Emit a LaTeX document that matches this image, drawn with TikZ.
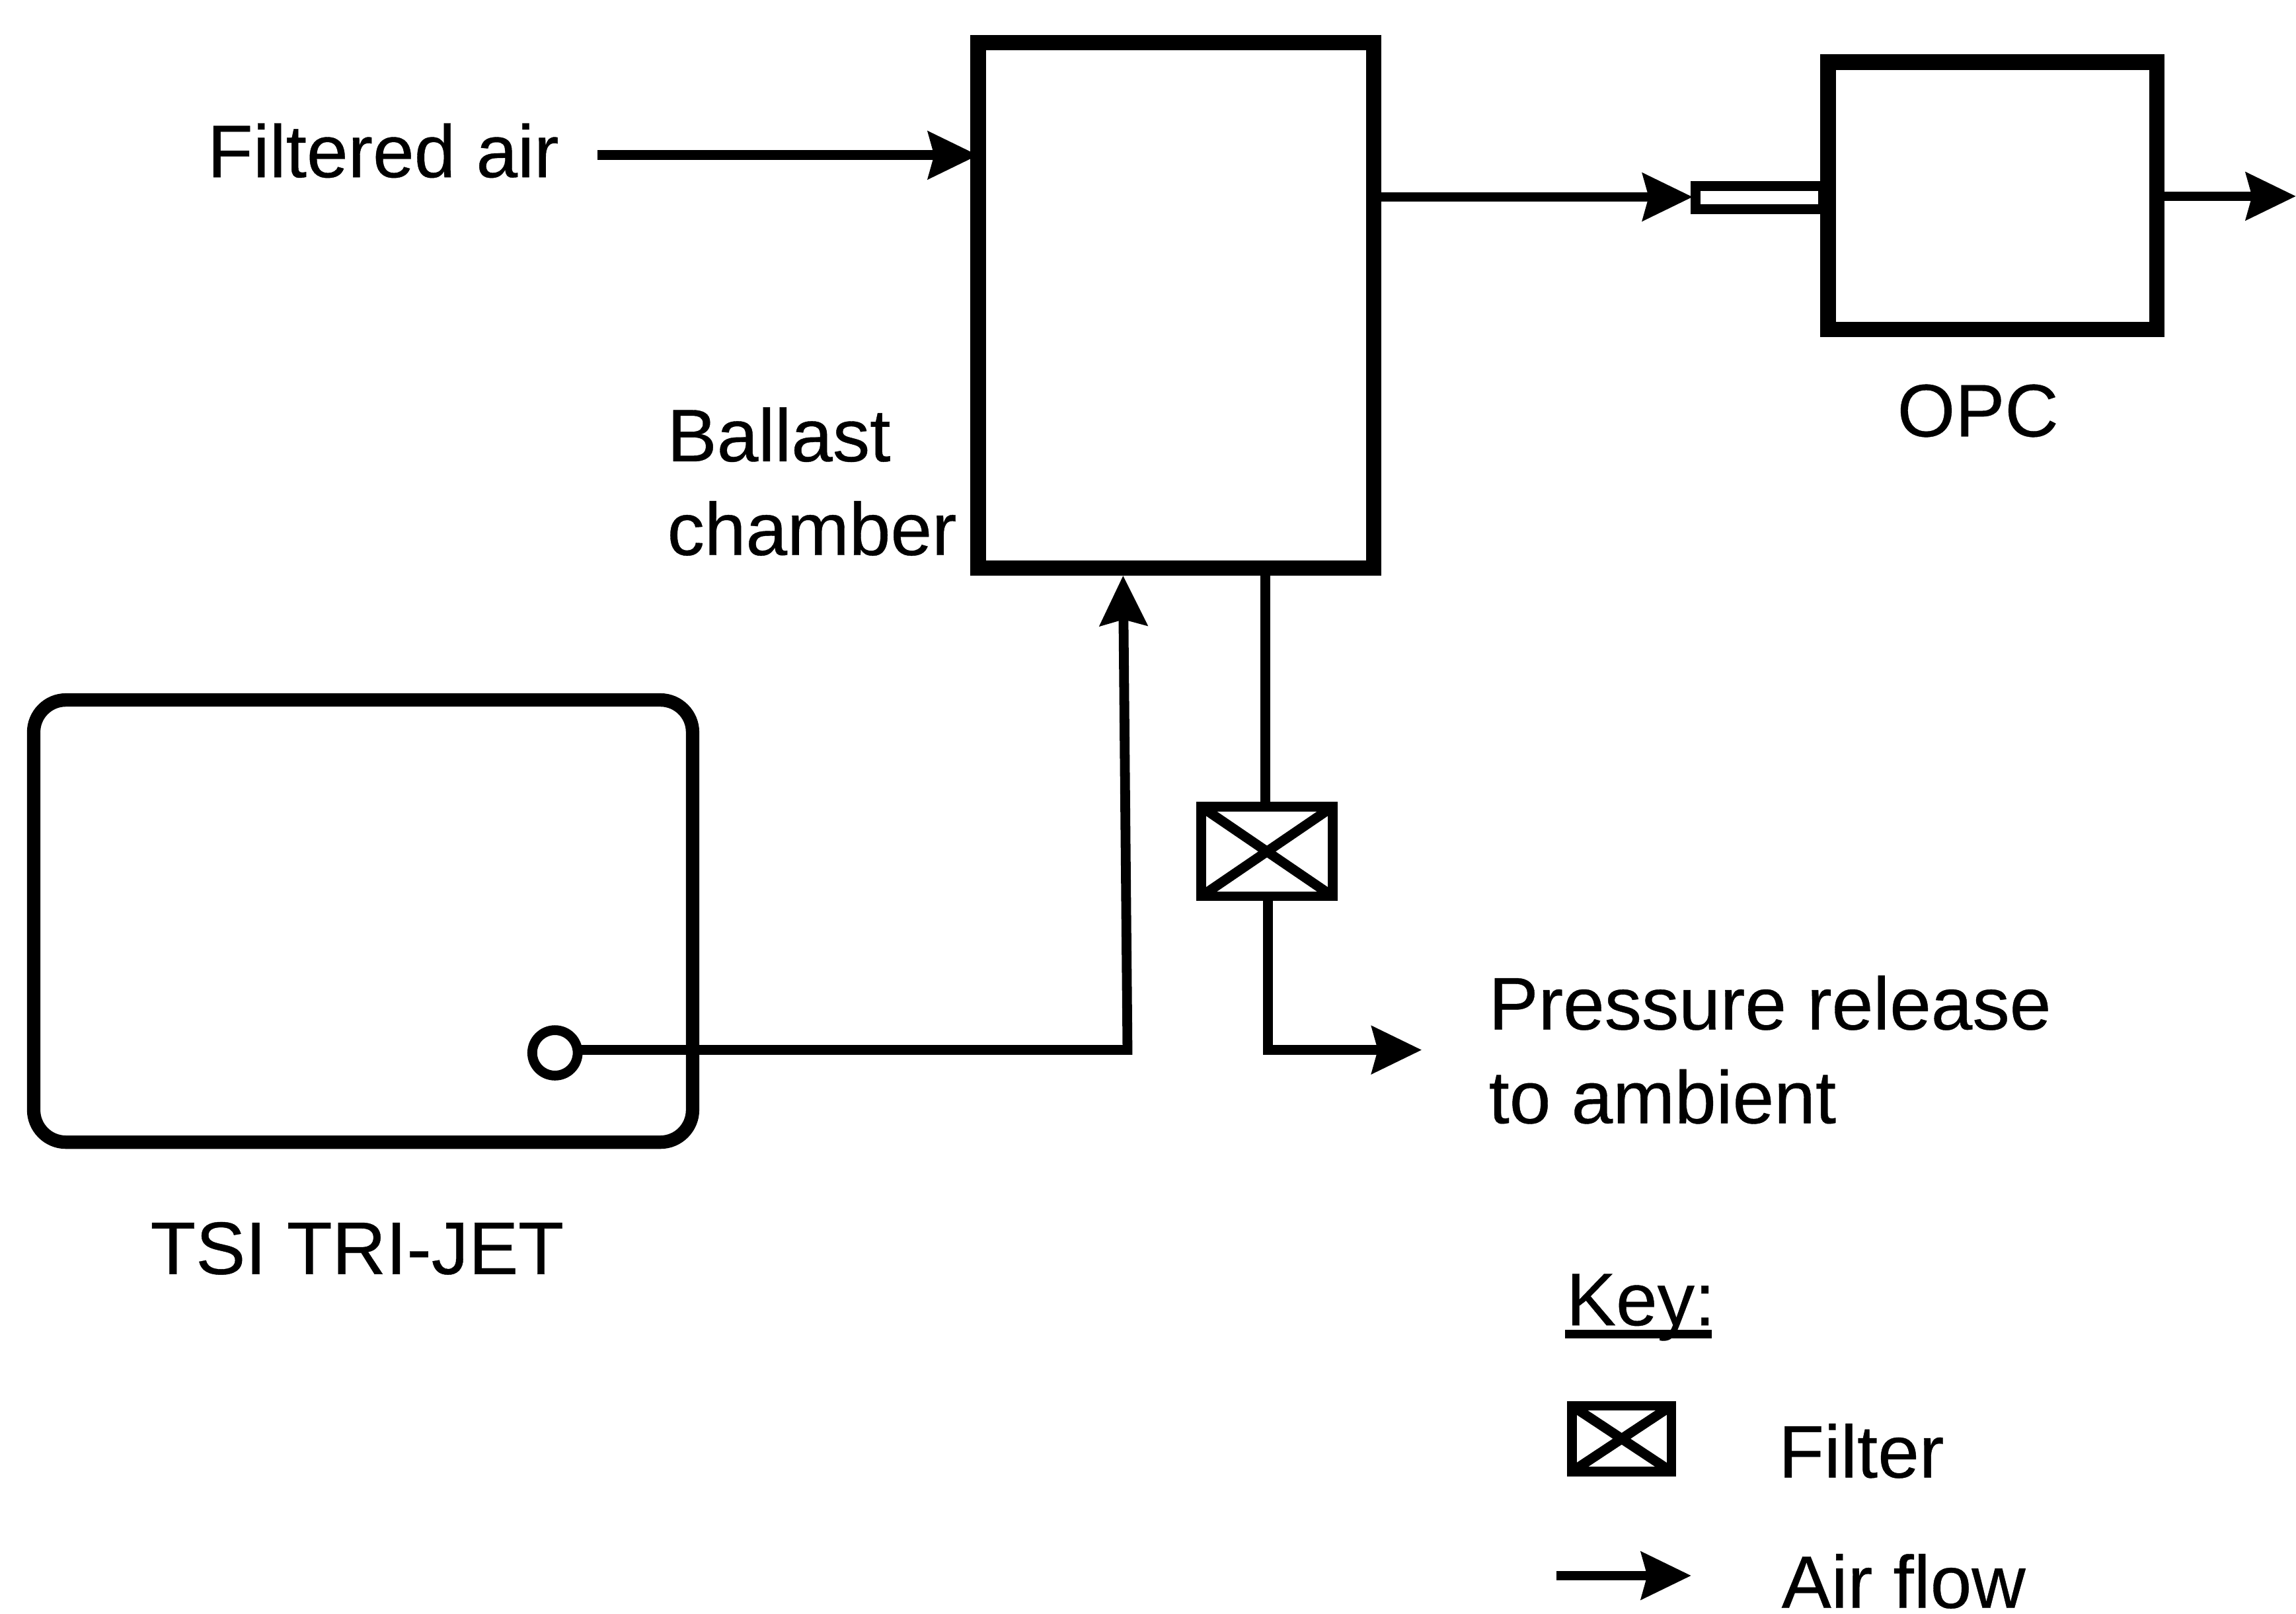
\documentclass[tikz,border=0pt]{standalone}
\usepackage{fontspec}
\setmainfont[FakeBold=0.35]{Liberation Sans}
\usetikzlibrary{arrows.meta}
\tikzset{
  x=0.01cm,y=-0.01cm,
  box/.style={draw,line width=3pt,line join=miter},
  flow/.style={line width=1.9pt,line join=miter,-{Stealth[length=0.34cm,width=0.32cm,inset=0.04cm]}},
  pipe/.style={line width=1.9pt},
  lab/.style={font=\fontsize{14.45}{18.2}\selectfont,inner sep=0pt,anchor=base west,align=left},
  filt/.style={draw,line width=1.9pt,line join=miter}
}
\begin{document}
\begin{tikzpicture}
\useasboundingbox (0,0) rectangle (1568,1102);
\coordinate (bTL) at (668,29); \coordinate (bBR) at (938,388);
\draw[box] (bTL) rectangle (bBR);
\coordinate (oTL) at (1248.5,42.5); \coordinate (oBR) at (1473,225);
\draw[box] (oTL) rectangle (oBR);
\draw[box,line width=2.6pt,rounded corners=0.22cm] (23,478) rectangle (473,780);
\coordinate (fa) at (408,106); \coordinate (faE) at (668,106);
\draw[flow] (fa) -- (faE);
\coordinate (bo) at (941,134.5); \coordinate (tipL) at (1156,134.5);
\draw[flow] (bo) -- (tipL);
\draw[filt] (1158,127) rectangle (1245,143);
\coordinate (oo) at (1478,134); \coordinate (oe) at (1568,134);
\draw[flow] (oo) -- (oe);
\draw[line width=1.9pt] (379,719) circle (0.155cm);
\coordinate (c) at (395,717); \coordinate (cc) at (770,717); \coordinate (cu) at (767,393);
\draw[flow] (c) -- (cc) -- (cu);
\coordinate (v0) at (864,393); \coordinate (v1) at (864,551);
\draw[pipe] (v0) -- (v1);
\draw[filt] (820.5,551) rectangle (910,612);
\draw[filt] (820.5,551) -- (910,612) (820.5,612) -- (910,551);
\coordinate (v2) at (866,612); \coordinate (v3) at (866,717); \coordinate (v4) at (971,717);
\draw[flow] (v2) -- (v3) -- (v4);
\node[lab] (n1) at (141,121) {Filtered air};
\node[lab] (n2) at (455,315) {Ballast};
\node[lab] (n3) at (455,379) {chamber};
\node[lab] (n4) at (1295,298) {OPC};
\node[lab] (n5) at (1016,703) {Pressure release};
\node[lab] (n6) at (1016,767) {to ambient};
\node[lab] (n7) at (102,870) {TSI TRI-JET};
\node[lab] (n8) at (1069,905) {Key:};
\node[lab] (n9) at (1214,1009) {Filter};
\node[lab] (n10) at (1216,1098) {Air flow};
\coordinate (u0) at (1069,911); \coordinate (u1) at (1169,911);
\draw[line width=1.6pt] (u0) -- (u1);
\draw[filt] (1073.5,960) rectangle (1141.5,1005);
\draw[filt] (1073.5,960) -- (1141.5,1005) (1073.5,1005) -- (1141.5,960);
\coordinate (k0) at (1063,1076); \coordinate (k1) at (1155,1076);
\draw[flow] (k0) -- (k1);
\end{tikzpicture}
\end{document}
